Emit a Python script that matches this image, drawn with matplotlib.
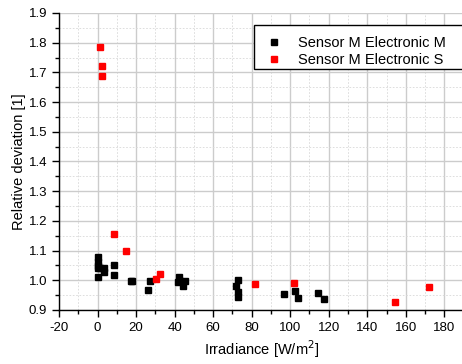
import matplotlib
matplotlib.use("Agg")
import matplotlib.pyplot as plt
from matplotlib.ticker import MultipleLocator, FormatStrFormatter
from matplotlib.patches import Rectangle

plt.rcParams['font.family'] = ['Liberation Sans', 'DejaVu Sans']
plt.rcParams['axes.unicode_minus'] = False

m_x = [0, 0, 0, 0, 0, 1.5, 3.4, 3.6, 8.8, 8.8, 17.2, 18.0, 26.2, 27.1,
       42.3, 41.8, 43.0, 44.6, 45.3, 72.9, 72.0, 72.8, 72.8,
       96.7, 102.4, 103.8, 114.3, 117.3]
m_y = [1.079, 1.062, 1.048, 1.040, 1.010, 1.042, 1.040, 1.029, 1.052, 1.019,
       0.997, 0.996, 0.969, 0.997, 1.010, 0.993, 0.998, 0.982, 0.997,
       1.001, 0.982, 0.960, 0.945, 0.954, 0.965, 0.941, 0.958, 0.936]
s_x = [1.5, 2.4, 2.4, 8.6, 15.0, 30.6, 32.6, 81.8, 102.1, 154.6, 172.3]
s_y = [1.787, 1.722, 1.687, 1.155, 1.099, 1.004, 1.020, 0.988, 0.992, 0.927, 0.977]
labels = ["Sensor M Electronic M", "Sensor M Electronic S"]

fig = plt.figure(figsize=(4.62, 3.64), dpi=100)
ax = fig.add_axes([59/462, 54/364, 404.6/462, 297/364])
ax.set_xlim(-20, 190)
ax.set_ylim(0.9, 1.9)

ax.xaxis.set_major_locator(MultipleLocator(20))
ax.xaxis.set_minor_locator(MultipleLocator(10))
ax.yaxis.set_major_locator(MultipleLocator(0.1))
ax.yaxis.set_minor_locator(MultipleLocator(0.05))
ax.yaxis.set_major_formatter(FormatStrFormatter('%.1f'))

ax.grid(which='major', color='#cccccc', lw=1.0, ls='-')
ax.grid(which='minor', color='#d8d8d8', lw=0.6, ls=(0, (2, 2)))
ax.set_axisbelow(True)

for sp in ['top', 'right']:
    ax.spines[sp].set_visible(False)
for sp in ['left', 'bottom']:
    ax.spines[sp].set_linewidth(1.0)

ax.tick_params(which='major', direction='out', length=5, width=1, labelsize=9.5)
ax.tick_params(which='minor', direction='out', length=3, width=1)

ax.plot(m_x, m_y, 's', color='black', ms=4.6, ls='none', label=labels[0], clip_on=False)
ax.plot(s_x, s_y, 's', color='#ff0000', ms=4.6, ls='none', label=labels[1], clip_on=False)

ax.set_xlabel("Irradiance [W/m$^2$]", fontsize=10.5, labelpad=3)
ax.set_ylabel("Relative deviation [1]", fontsize=10.5, labelpad=1.5)

leg = ax.legend(loc='upper left', bbox_to_anchor=((254-59)/404.6, (310-25)/297),
                frameon=False, fontsize=10.5, handletextpad=1.1, markerscale=0.85,
                borderpad=0.25, labelspacing=0.2, handlelength=1.2)
rect = Rectangle(((254-59)/404.6, (310-69)/297), 0.6, 44/297, transform=ax.transAxes,
                 facecolor='white', edgecolor='black', lw=1.0, zorder=4, clip_on=False)
ax.add_patch(rect)
leg.set_zorder(5)

fig.savefig("out.png", dpi=100)
